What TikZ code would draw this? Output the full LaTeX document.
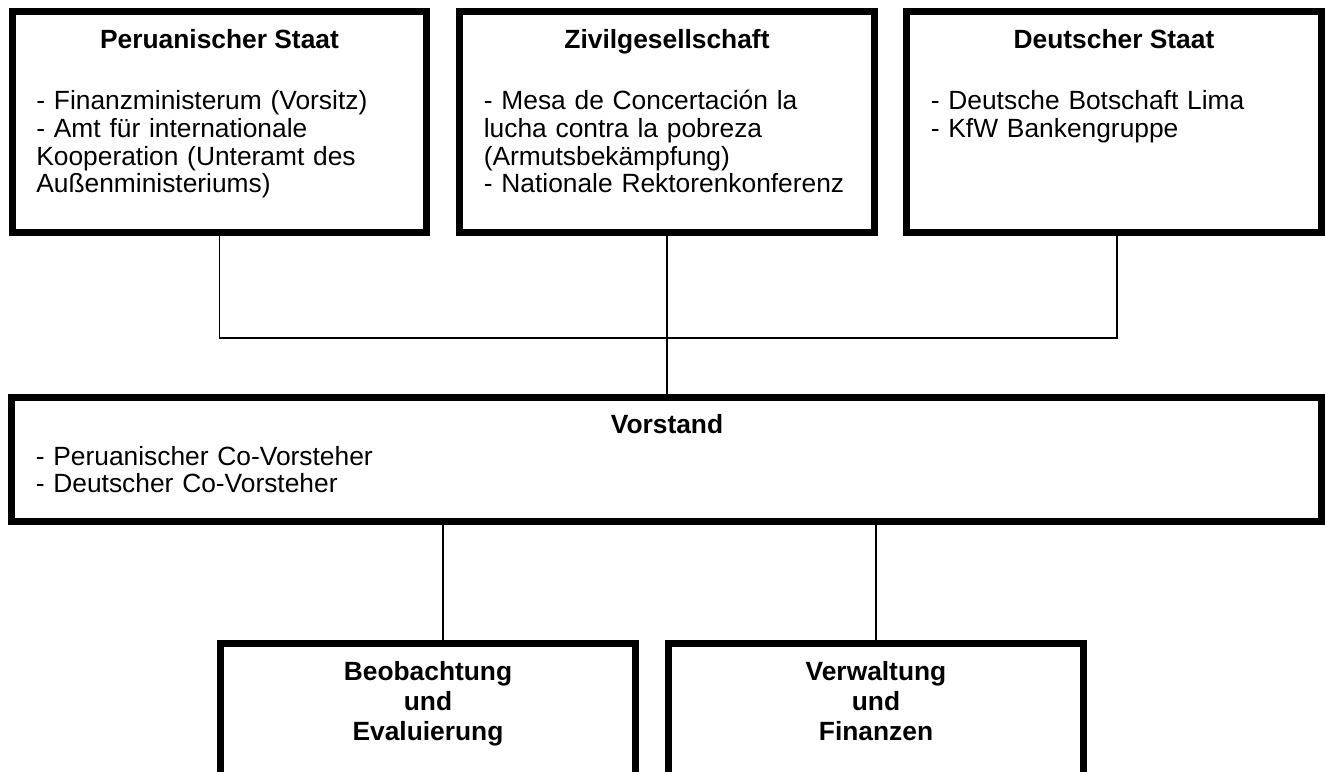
\documentclass[tikz,border=0pt]{standalone}
\usepackage{fontspec}
\setmainfont{Liberation Sans}
\usepackage{tikz}

\begin{document}
\begin{tikzpicture}[x=0.02cm, y=-0.02cm,
    box/.style={draw, rectangle, line width=0.14cm, minimum width=8.3cm, inner sep=0pt},
    head/.style={font=\fontsize{15}{17}\selectfont\bfseries, inner sep=0pt, anchor=base},
    body/.style={font=\fontsize{15}{15.8}\selectfont, inner sep=0pt, anchor=base west, text width=7.7cm, align=left},
    link/.style={line width=1pt}]
  \useasboundingbox (0,0) rectangle (1325,771);
  \clip (0,0) rectangle (1325,771);

  % boxes
  \node[box, minimum height=4.42cm] (peru) at (219.5,122) {};
  \node[box, minimum height=4.42cm] (zivil) at (667,122) {};
  \node[box, minimum height=4.42cm] (deutsch) at (1114,122) {};
  \node[box, minimum width=26.2cm, minimum height=2.5cm] (vorstand) at (666.5,459.5) {};
  \node[box, minimum width=8.32cm, minimum height=3.14cm] (beob) at (428,721.5) {};
  \node[box, minimum width=8.32cm, minimum height=3.14cm] (verw) at (876,721.5) {};

  % texts
  \node[head] (peru head) at (219.5,48) {Peruanischer Staat};
  \node[body] (peru text) at (36,109.5) {- Finanzministerum (Vorsitz)\\- Amt für internationale\\Kooperation (Unteramt des\\Außenministeriums)};
  \node[head] (zivil head) at (667,48) {Zivilgesellschaft};
  \node[body] (zivil text) at (483.5,109.5) {- Mesa de Concertación la\\lucha contra la pobreza\\(Armutsbekämpfung)\\- Nationale Rektorenkonferenz};
  \node[head] (deutsch head) at (1114,48) {Deutscher Staat};
  \node[body] (deutsch text) at (930.5,109.5) {- Deutsche Botschaft Lima\\- KfW Bankengruppe};
  \node[head] (vorstand head) at (667,433) {Vorstand};
  \node[body, text width=12cm] (vorstand text) at (35.5,465) {- Peruanischer Co-Vorsteher\\- Deutscher Co-Vorsteher};
  \node[head, text width=7cm, align=center] (beob head) at (428,680.5) {Beobachtung\\und\\Evaluierung};
  \node[head, text width=7cm, align=center] (verw head) at (876,680.5) {Verwaltung\\und\\Finanzen};

  % connectors
  \coordinate (bar) at (668,338);
  \draw[link] (peru.south) -- (peru.south |- bar) -- ([xshift=0.06cm]deutsch.south |- bar) -- ([xshift=0.06cm]deutsch.south);
  \draw[link] (zivil.south) -- (zivil.south |- vorstand.north);
  \draw[link] ([xshift=0.3cm]beob.north |- vorstand.south) -- ([xshift=0.3cm]beob.north);
  \draw[link] (verw.north |- vorstand.south) -- (verw.north);
\end{tikzpicture}
\end{document}
